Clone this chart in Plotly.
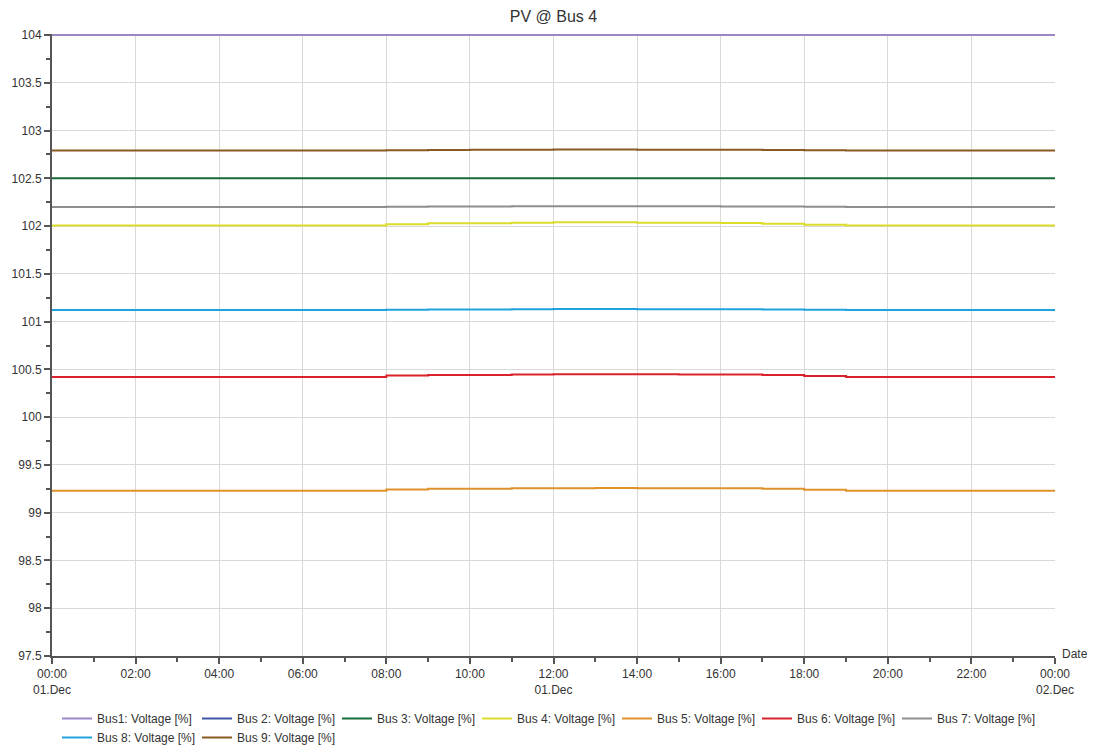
import plotly.graph_objects as go

hours = list(range(25))
times = [f"2020-12-01 {h:02d}:00" if h < 24 else "2020-12-02 00:00" for h in hours]

bus1 = [104.0] * 25
bus2 = [104.0] * 25
bus3 = [102.5] * 25
bus4 = [102.005]*8 + [102.02, 102.03, 102.03, 102.035, 102.04, 102.04, 102.035, 102.035, 102.033, 102.025, 102.015] + [102.005]*6
bus5 = [99.23]*8 + [99.243, 99.25, 99.25, 99.256, 99.257, 99.258, 99.257, 99.256, 99.256, 99.25, 99.24] + [99.23]*6
bus6 = [100.42]*8 + [100.435, 100.44, 100.44, 100.447, 100.448, 100.449, 100.448, 100.447, 100.447, 100.44, 100.43] + [100.42]*6
bus7 = [102.2]*8 + [102.203, 102.205, 102.206, 102.207, 102.208, 102.208, 102.207, 102.207, 102.206, 102.204, 102.202] + [102.2]*6
bus8 = [101.122]*8 + [101.125, 101.127, 101.128, 101.13, 101.131, 101.131, 101.13, 101.13, 101.129, 101.127, 101.125] + [101.122]*6
bus9 = [102.79]*8 + [102.795, 102.797, 102.798, 102.8, 102.801, 102.801, 102.8, 102.8, 102.799, 102.797, 102.794] + [102.79]*6

names = ["Bus1: Voltage [%]", "Bus 2: Voltage [%]", "Bus 3: Voltage [%]", "Bus 4: Voltage [%]",
         "Bus 5: Voltage [%]", "Bus 6: Voltage [%]", "Bus 7: Voltage [%]", "Bus 8: Voltage [%]",
         "Bus 9: Voltage [%]"]
series = [bus1, bus2, bus3, bus4, bus5, bus6, bus7, bus8, bus9]
colors = ["#9d86c4", "#3e55a6", "#156b3a", "#dcdc2a", "#e0922a", "#d9222b", "#8e8e90", "#1fa3dc", "#8a5a22"]

tick_vals = [f"2020-12-01 {h:02d}:00" for h in range(0, 24, 2)] + ["2020-12-02 00:00"]
tick_text = ["00:00<br>01.Dec"] + [f"{h:02d}:00" for h in range(2, 12, 2)] + ["12:00<br>01.Dec"] + \
            [f"{h:02d}:00" for h in range(14, 24, 2)] + ["00:00<br>02.Dec"]

y_ticks = [97.5 + 0.5 * i for i in range(14)]
y_text = [f"{v:g}" for v in y_ticks]

# page body has an 8px margin, so the figure is sized / offset accordingly
W, H = 1087, 741

fig = go.Figure()
draw_order = [1, 0, 2, 3, 4, 5, 6, 7, 8]
for i in draw_order:
    fig.add_trace(go.Scatter(
        x=times, y=series[i], name=names[i], mode="lines",
        line=dict(color=colors[i], width=2, shape="hv"),
        legendrank=i + 1, cliponaxis=False,
    ))

fig.update_layout(
    width=W, height=H,
    margin=dict(l=44, r=40, t=26, b=93, autoexpand=False),
    paper_bgcolor="white", plot_bgcolor="white",
    font=dict(family="Liberation Sans, Arial, sans-serif", size=12, color="#333333"),
    title=dict(text="PV @ Bus 4", x=0.5, xanchor="center", xref="paper",
               y=1 - 8.5 / H, yanchor="middle", yref="container",
               font=dict(size=16, color="#333333")),
    showlegend=True,
    legend=dict(orientation="h", x=0.005, xanchor="left", y=1 - 696 / H, yanchor="top",
                yref="container", font=dict(size=12, color="#333333"), tracegroupgap=0,
                itemwidth=30, traceorder="normal", entrywidth=95, entrywidthmode="pixels"),
    xaxis=dict(
        type="date", range=["2020-12-01 00:00", "2020-12-02 00:00"], automargin=False,
        tickmode="array", tickvals=tick_vals, ticktext=tick_text,
        showgrid=True, gridcolor="#d9d9d9", gridwidth=1,
        showline=True, linecolor="#555555", linewidth=2,
        ticks="outside", ticklen=6, tickwidth=2, tickcolor="#555555",
        minor=dict(dtick=3600000, ticks="outside", ticklen=4, tickwidth=2, tickcolor="#555555", showgrid=False),
        zeroline=False, tickfont=dict(size=12, color="#333333"),
    ),
    yaxis=dict(
        range=[97.5, 104.0105], tickmode="array", tickvals=y_ticks, ticktext=y_text, automargin=False,
        showgrid=True, gridcolor="#d9d9d9", gridwidth=1,
        showline=True, linecolor="#555555", linewidth=2,
        ticks="outside", ticklen=6, tickwidth=2, tickcolor="#555555",
        minor=dict(tickvals=[97.75 + 0.5 * i for i in range(13)], ticks="outside", ticklen=4,
                   tickwidth=2, tickcolor="#555555", showgrid=False),
        zeroline=False, tickfont=dict(size=12, color="#333333"),
    ),
)

fig.add_annotation(text="Date", xref="paper", yref="paper", x=1.0, y=0.0, xanchor="left",
                   yanchor="middle", xshift=5, yshift=2, showarrow=False, font=dict(size=12, color="#333333"))

fig.write_html("out.html")
